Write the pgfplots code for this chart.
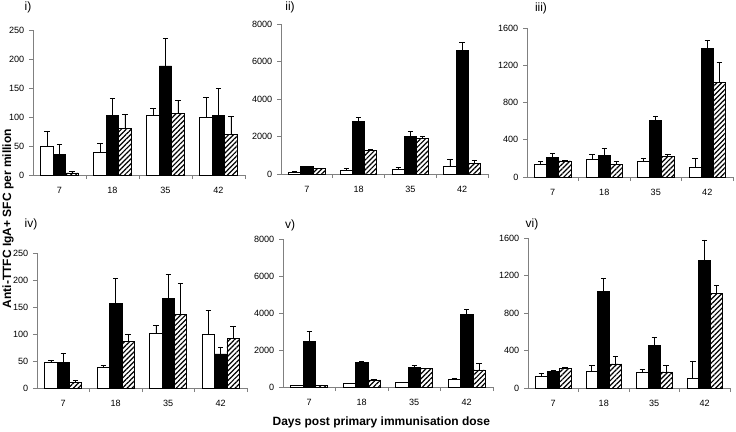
\documentclass[border=0pt]{standalone}
\usepackage{fontspec}
\setmainfont{Liberation Sans}
\usepackage{pgfplots}
\pgfplotsset{compat=1.18}
\usepackage{pgfplotstable}
\usetikzlibrary{patterns.meta}

% columns: day index, white/black/hatched bar values and their + errors
\pgfplotstableread{
x w   we   b   be  h   he
0 50  26   36  17  3.5 2.5
1 38.5 15.5 102 30 80  25
2 102 12   188 48  106 23
3 99  35   103 46  70  31
}\tabi
\pgfplotstableread{
x w   we   b    be  h    he
0 80  50   400  20  300  20
1 200 80   2800 200 1280 20
2 220 110  1980 270 1900 100
3 420 360  6600 400 550  150
}\tabii
\pgfplotstableread{
x w   we  b    be  h    he
0 133 35  208  42  172  8
1 190 50  233  72  136  29
2 168 36  606  50  219  28
3 108 89  1376 90  1018 211
}\tabiii
\pgfplotstableread{
x w   we   b    be   h   he
0 47  4    46.5 17.5 10  3.6
1 38  3.5  156  47   86  13
2 101 15   166  45   136 57
3 99  44   63   13   91  23
}\tabiv
\pgfplotstableread{
x w   we  b    be  h    he
0 80  10  2450 560 100  10
1 180 20  1330 40  380  20
2 230 20  1080 70  1000 20
3 420 30  3910 270 920  330
}\tabv
\pgfplotstableread{
x w   we  b    be  h    he
0 129 32  179  10  207  11
1 182 57  1029 139 257  82
2 171 25  450  93  171  68
3 107 182 1361 218 1011 85
}\tabvi

\pgfplotsset{
  panel/.style={
    scale only axis,
    ybar=0pt, bar width=0.235,
    xmin=-0.5, xmax=3.5, ymin=0,
    axis x line*=bottom, axis y line*=left,
    axis line style={gray, line width=0.6pt},
    xtick={0,1,2,3}, xticklabels={7,18,35,42},
    major x tick style={draw=none},
    minor xtick={0.5,1.5,2.5,3.5},
    minor tick length=3pt, major tick length=3pt,
    tick align=outside,
    every tick/.style={gray, line width=0.5pt},
    tick label style={font=\fontsize{6.8}{8}\selectfont},
    xticklabel style={yshift=-2.5pt},
    /pgf/number format/assume math mode=true,
    /pgf/number format/1000 sep={},
    scaled y ticks=false,
    error bars/error bar style={black, line width=0.6pt},
    error bars/error mark options={rotate=90, black, line width=0.6pt, mark size=2pt},
  },
  wbar/.style={fill=white, draw=black, line width=0.6pt, bar shift=-0.235,
    error bars/.cd, y dir=plus, y explicit},
  bbar/.style={fill=black, draw=black, line width=0.6pt, bar shift=0,
    error bars/.cd, y dir=plus, y explicit},
  hbar/.style={pattern={Lines[angle=45,distance=2.6pt,line width=0.9pt]},
    pattern color=black, draw=black, line width=0.6pt, bar shift=0.235,
    error bars/.cd, y dir=plus, y explicit},
}

\newcommand{\threebars}[1]{%
  \addplot[wbar] table[x=x, y=w, y error=we]{#1};
  \addplot[bbar] table[x=x, y=b, y error=be]{#1};
  \addplot[hbar] table[x=x, y=h, y error=he]{#1};
}

\begin{document}
\begin{tikzpicture}
\path[use as bounding box] (0,0) rectangle (552pt,-324pt);

\begin{axis}[panel, at={(24.75pt,-131.25pt)}, anchor=south west,
  width=159pt, height=108.75pt, ymax=250, ytick={0,50,...,250}]
\threebars{\tabi}
\end{axis}

\begin{axis}[panel, at={(210.75pt,-130.5pt)}, anchor=south west,
  width=155.25pt, height=112.5pt, ymax=8000, ytick={0,2000,...,8000}]
\threebars{\tabii}
\end{axis}

\begin{axis}[panel, at={(395.25pt,-132.75pt)}, anchor=south west,
  width=154.5pt, height=111.75pt, ymax=1600, ytick={0,400,...,1600}]
\threebars{\tabiii}
\end{axis}

\begin{axis}[panel, at={(27.75pt,-291pt)}, anchor=south west,
  width=157.5pt, height=101.25pt, ymax=250, ytick={0,50,...,250}]
\threebars{\tabiv}
\end{axis}

\begin{axis}[panel, at={(212.25pt,-290.25pt)}, anchor=south west,
  width=157.5pt, height=111pt, ymax=8000, ytick={0,2000,...,8000}]
\threebars{\tabv}
\end{axis}

\begin{axis}[panel, at={(396pt,-291pt)}, anchor=south west,
  width=151.5pt, height=112.5pt, ymax=1600, ytick={0,400,...,1600}]
\threebars{\tabvi}
\end{axis}

% panel letters
\begin{scope}[every node/.style={font=\fontsize{9}{11}\selectfont, inner sep=0pt}]
\node at (21pt,-5.25pt) {i)};
\node at (217.5pt,-5.25pt) {ii)};
\node at (405.75pt,-6pt) {iii)};
\node at (23.25pt,-168pt) {iv)};
\node at (217.5pt,-168.75pt) {v)};
\node at (399pt,-168pt) {vi)};
\end{scope}

% shared axis titles
\node[rotate=90, font=\bfseries\fontsize{9}{11}\selectfont, inner sep=0pt]
  at (6pt,-164pt) {Anti-TTFC IgA+ SFC per million};
\node[font=\bfseries\fontsize{9}{11}\selectfont, inner sep=0pt]
  at (286pt,-317pt) {Days post primary immunisation dose};
\end{tikzpicture}
\end{document}
